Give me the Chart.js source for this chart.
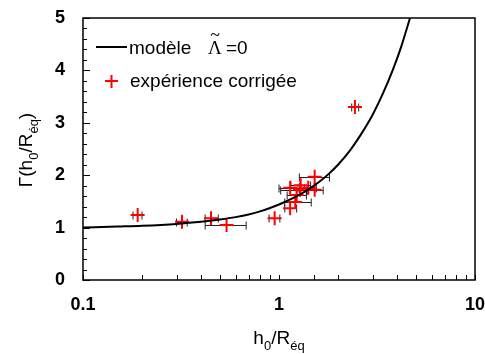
<!DOCTYPE html>
<html>
<head>
<meta charset="utf-8">
<script src="https://cdn.jsdelivr.net/npm/chart.js@4/dist/chart.umd.min.js"></script>
<style>
    body { margin: 0; background: #fff; }
</style>
</head>
<body>
<canvas id="gammaChart" width="485" height="354"></canvas>
<script>
// Model curve
const modelX = [0.1, 0.15, 0.2, 0.3, 0.4, 0.5, 0.6, 0.7, 0.8, 0.9, 1.0, 1.2, 1.4, 1.6, 1.8, 2.0, 2.3, 2.6, 3.0, 3.4, 3.8, 4.2, 4.66];
const modelY = [1.00, 1.02, 1.035, 1.07, 1.11, 1.155, 1.20, 1.25, 1.31, 1.375, 1.44, 1.575, 1.72, 1.87, 2.03, 2.20, 2.47, 2.76, 3.15, 3.57, 4.00, 4.45, 5.00];

// Corrected experiment points + horizontal error bars
const expX    = [0.19, 0.32, 0.45, 0.54, 0.95, 1.14, 1.21, 1.23, 1.14, 1.28, 1.29, 1.41, 1.52, 1.52, 2.44];
const expY    = [1.24, 1.11, 1.18, 1.05, 1.18, 1.37, 1.49, 1.62, 1.76, 1.72, 1.81, 1.76, 1.72, 1.97, 3.30];
const expXLow = [0.18, 0.30, 0.42, 0.42, 0.89, 1.07, 1.07, 1.10, 1.00, 1.02, 1.15, 1.25, 1.38, 1.27, 2.35];
const expXHigh= [0.20, 0.34, 0.49, 0.68, 1.01, 1.23, 1.46, 1.38, 1.35, 1.40, 1.45, 1.55, 1.68, 1.81, 2.55];

// Axes
const xMin = 0.1, xMax = 10;
const yMin = 0, yMax = 5, yStep = 0.2;

const FONT = '"Liberation Sans", Arial, sans-serif';
const SERIF = '"Liberation Serif", "Times New Roman", serif';

// draw text pieces, some as subscripts
function drawParts(ctx, parts, x, y, size) {
    let cx = x;
    parts.forEach(p => {
        const sub = p[1];
        ctx.font = (sub ? Math.round(size * 0.7) : size) + 'px ' + FONT;
        ctx.fillText(p[0], cx, sub ? y + size * 0.3 : y);
        cx += ctx.measureText(p[0]).width;
    });
}
function partsWidth(ctx, parts, size) {
    let w = 0;
    parts.forEach(p => {
        ctx.font = (p[1] ? Math.round(size * 0.7) : size) + 'px ' + FONT;
        w += ctx.measureText(p[0]).width;
    });
    return w;
}

// Error bars, frame, inward ticks, titles, legend
const decorPlugin = {
    id: 'decor',
    beforeDatasetsDraw(chart) {
        const ctx = chart.ctx;
        const xs = chart.scales.x, ys = chart.scales.y;
        ctx.save();
        ctx.strokeStyle = '#222';
        ctx.lineWidth = 1;
        for (let i = 0; i < expX.length; i++) {
            const y = Math.round(ys.getPixelForValue(expY[i])) + 0.5;
            const x1 = xs.getPixelForValue(expXLow[i]);
            const x2 = xs.getPixelForValue(expXHigh[i]);
            ctx.beginPath();
            ctx.moveTo(x1, y); ctx.lineTo(x2, y);
            ctx.moveTo(x1, y - 4); ctx.lineTo(x1, y + 4);
            ctx.moveTo(x2, y - 4); ctx.lineTo(x2, y + 4);
            ctx.stroke();
        }
        ctx.restore();
    },
    afterDraw(chart) {
        const ctx = chart.ctx;
        const a = chart.chartArea;
        const xs = chart.scales.x, ys = chart.scales.y;
        ctx.save();
        ctx.strokeStyle = '#000';
        ctx.lineWidth = 1.5;
        ctx.strokeRect(a.left, a.top, a.right - a.left, a.bottom - a.top);

        // inward ticks
        ctx.lineWidth = 1;
        ctx.beginPath();
        xs.ticks.forEach(t => {
            const x = Math.round(xs.getPixelForValue(t.value)) + 0.5;
            ctx.moveTo(x, a.bottom); ctx.lineTo(x, a.bottom - 5);
        });
        ys.ticks.forEach(t => {
            const y = Math.round(ys.getPixelForValue(t.value)) + 0.5;
            const major = Math.abs(t.value - Math.round(t.value)) < 1e-6;
            ctx.moveTo(a.left, y); ctx.lineTo(a.left + (major ? 7 : 4), y);
        });
        ctx.stroke();

        // axis titles
        ctx.fillStyle = '#000';
        ctx.textBaseline = 'alphabetic';
        const xt = [['h', false], ['0', true], ['/R', false], ['éq', true]];
        const xw = partsWidth(ctx, xt, 19);
        drawParts(ctx, xt, (a.left + a.right) / 2 - xw / 2, 344, 19);

        const yt = [['Γ(h', false], ['0', true], ['/R', false], ['éq', true], [')', false]];
        const yw = partsWidth(ctx, yt, 19);
        ctx.save();
        ctx.translate(32, 150);
        ctx.rotate(-Math.PI / 2);
        drawParts(ctx, yt, -yw / 2, 0, 19);
        ctx.restore();

        // legend
        ctx.lineWidth = 2;
        ctx.beginPath();
        ctx.moveTo(96, 47); ctx.lineTo(127, 47);
        ctx.stroke();
        ctx.font = '19px ' + FONT;
        ctx.fillText('modèle', 129, 54);
        ctx.font = '19px ' + SERIF;
        ctx.textAlign = 'center';
        ctx.fillText('Λ', 215, 54);
        ctx.font = '18px ' + SERIF;
        ctx.fillText('~', 215, 41);
        ctx.textAlign = 'left';
        ctx.font = '19px ' + FONT;
        ctx.fillText('=0', 226, 54);

        ctx.strokeStyle = '#ff0000';
        ctx.beginPath();
        ctx.moveTo(105, 81); ctx.lineTo(118, 81);
        ctx.moveTo(111.5, 75); ctx.lineTo(111.5, 88);
        ctx.stroke();
        ctx.fillText('expérience corrigée', 130, 87);
        ctx.restore();
    }
};

const ctx = document.getElementById('gammaChart').getContext('2d');
new Chart(ctx, {
    data: {
        datasets: [
            {
                type: 'line',
                label: 'modèle',
                data: modelX.map((x, i) => ({ x: x, y: modelY[i] })),
                borderColor: '#000',
                borderWidth: 2,
                pointRadius: 0,
                cubicInterpolationMode: 'monotone',
                fill: false
            },
            {
                type: 'scatter',
                label: 'expérience corrigée',
                data: expX.map((x, i) => ({ x: x, y: expY[i] })),
                pointStyle: 'cross',
                pointRadius: 7,
                borderColor: '#ff0000',
                borderWidth: 2
            }
        ]
    },
    options: {
        responsive: false,
        animation: false,
        devicePixelRatio: 1,
        layout: { padding: { top: 18, right: 10, left: 0, bottom: 0 } },
        plugins: {
            legend: { display: false },
            tooltip: { enabled: false }
        },
        scales: {
            x: {
                type: 'logarithmic',
                min: xMin,
                max: xMax,
                grid: { display: false, drawTicks: false },
                border: { display: false },
                afterFit(scale) {
                    scale.height = 74;
                    scale.paddingLeft = 0;
                    scale.paddingRight = 0;
                },
                ticks: {
                    autoSkip: false,
                    maxRotation: 0,
                    padding: 14,
                    color: '#000',
                    font: { family: FONT, size: 18, weight: 'bold' },
                    callback(v) {
                        const l = Math.log10(v);
                        return Math.abs(l - Math.round(l)) < 1e-6 ? String(v) : '';
                    }
                }
            },
            y: {
                min: yMin,
                max: yMax,
                grid: { display: false, drawTicks: false },
                border: { display: false },
                afterFit(scale) {
                    scale.width = 83;
                    scale.paddingTop = 0;
                    scale.paddingBottom = 0;
                },
                ticks: {
                    stepSize: yStep,
                    autoSkip: false,
                    padding: 18,
                    color: '#000',
                    font: { family: FONT, size: 18, weight: 'bold' },
                    callback(v) {
                        return Math.abs(v - Math.round(v)) < 1e-6 ? String(Math.round(v)) : '';
                    }
                }
            }
        }
    },
    plugins: [decorPlugin]
});
</script>
</body>
</html>
